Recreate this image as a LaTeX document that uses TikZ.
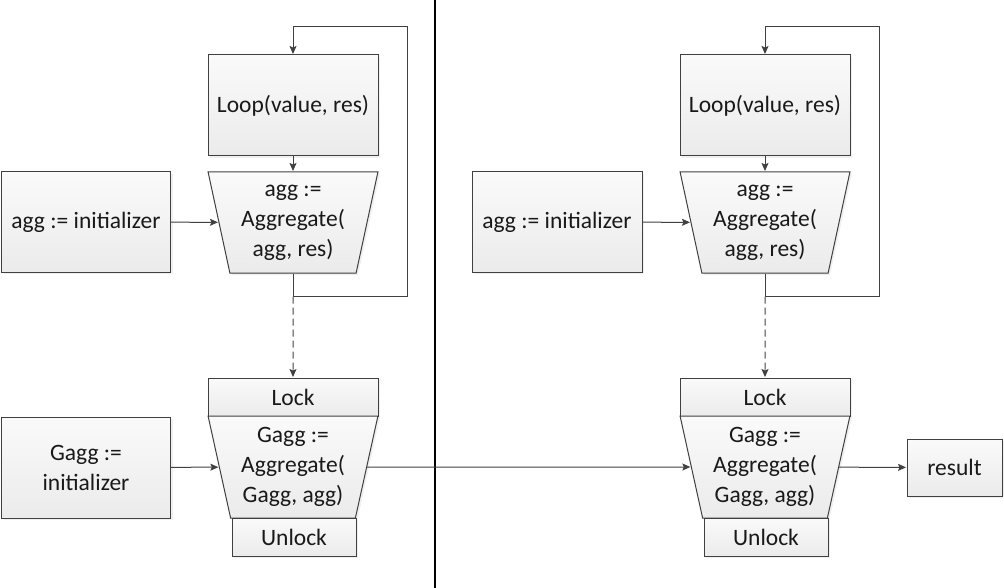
\documentclass[tikz,border=0pt]{standalone}
\usepackage{fontspec}
\setmainfont{Carlito}
\usepackage{tikz}
\usetikzlibrary{arrows.meta,shapes.geometric,shadows}
\definecolor{linec}{HTML}{404040}
\definecolor{boxtop}{HTML}{FAFAFA}
\definecolor{boxbot}{HTML}{EBEBEB}

\begin{document}
\begin{tikzpicture}[->,>={Stealth[length=8pt,width=7pt,inset=1.5pt]},shorten >=0.5pt,
                    x=1pt,y=-1pt,line width=1pt,color=linec]
                    \tikzstyle{every node}=[font=\fontsize{23.5}{30}\selectfont,
                            text=black!90,align=center]
                    \tikzstyle{box}=[draw=linec,rectangle,top color=boxtop,
                            bottom color=boxbot,inner sep=2pt,
                            drop shadow={opacity=0.12,shadow xshift=2pt,shadow yshift=-2pt}]
                    \tikzstyle{agg}=[box,trapezium,shape border rotate=180,
                            trapezium left angle=77,trapezium right angle=77,
                            trapezium stretches=true,minimum width=170pt,
                            minimum height=101pt,inner sep=4pt]

  \useasboundingbox (0,0) rectangle (1004,588);

  % left half
  \node (1) [box,minimum width=170pt,minimum height=101pt] at (293,105.5) {Loop(value, res)};
  \node (2) [agg] at (293,222.5) {agg :=\\Aggregate(\\agg, res)};
  \node (3) [box,minimum width=169pt,minimum height=100pt] at (86,222) {agg := initializer};
  \node (4) [box,minimum width=170pt,minimum height=38pt] at (293,397) {Lock};
  \node (5) [agg,minimum height=102pt] at (293,467) {Gagg :=\\Aggregate(\\Gagg, agg)};
  \node (6) [box,minimum width=124pt,minimum height=38pt] at (294,537) {Unlock};
  \node (7) [box,minimum width=169pt,minimum height=101pt] at (86,467.5) {Gagg :=\\initializer};

  % right half
  \node (8) [box,minimum width=170pt,minimum height=101pt] at (765,105.5) {Loop(value, res)};
  \node (9) [agg] at (765,222.5) {agg :=\\Aggregate(\\agg, res)};
  \node (10) [box,minimum width=170pt,minimum height=100pt] at (557,222) {agg := initializer};
  \node (11) [box,minimum width=170pt,minimum height=38pt] at (765,397) {Lock};
  \node (12) [agg,minimum height=102pt] at (765,467) {Gagg :=\\Aggregate(\\Gagg, agg)};
  \node (13) [box,minimum width=124pt,minimum height=38pt] at (766,537) {Unlock};
  \node (14) [box,minimum width=95pt,minimum height=57pt] at (954.5,467.5) {result};

  \draw[-,line width=2pt,black] (435,0) -- (435,588);

  \draw (2.south) -- ++(0,23) coordinate (c1) -| (407,27) -| (1.north);
  \draw (9.south) -- ++(0,23) coordinate (c2) -| (879,27) -| (8.north);

  \path (1) edge (2)
        (3) edge (2)
        (c1) edge[dashed,dash pattern=on 7pt off 4pt] (4)
        (7) edge (5)
        (5) edge (12)
        (8) edge (9)
        (10) edge (9)
        (c2) edge[dashed,dash pattern=on 7pt off 4pt] (11)
        (12) edge (14);

\end{tikzpicture}
\end{document}
